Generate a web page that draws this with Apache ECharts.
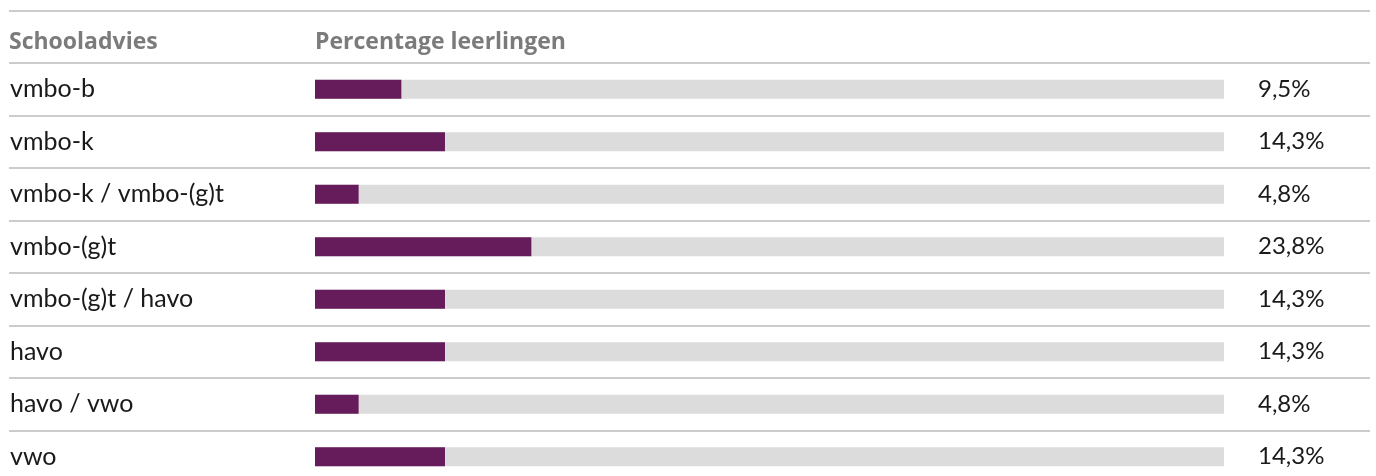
<!DOCTYPE html>
<html>
<head>
<meta charset="utf-8">
<script src="https://cdn.jsdelivr.net/npm/echarts@6/dist/echarts.min.js"></script>
<style>
  html, body { margin: 0; padding: 0; background: #fff; }
  #main { width: 1376px; height: 476px; }
</style>
</head>
<body>
<div id="main"></div>
<script>
var chartDom = document.getElementById('main');
var myChart = echarts.init(chartDom);
var option;

const categories = [
  'vmbo-b',
  'vmbo-k',
  'vmbo-k / vmbo-(g)t',
  'vmbo-(g)t',
  'vmbo-(g)t / havo',
  'havo',
  'havo / vwo',
  'vwo'
];
const values = [9.5, 14.3, 4.8, 23.8, 14.3, 14.3, 4.8, 14.3];
const trackMax = 100;
const headers = ['Schooladvies', 'Percentage leerlingen'];

const font = 'Lato, sans-serif';
const headFont = "'Open Sans', sans-serif";
const purple = '#661b5a';
const track = '#dcdcdc';
const lineColor = '#cccccc';

// bars run from x=315 to x=1224 for 0..100%, grid spans the full row width
const pxPerUnit = (1224 - 315) / trackMax;
const xMin = -(315 - 9) / pxPerUnit;
const xMax = (1370 - 315) / pxPerUnit;

function fmt(v) {
  return v.toFixed(1).replace('.', ',') + '%';
}

option = {
  animation: false,
  grid: {
    left: 9,
    right: 6,
    top: 63,
    height: 420,
    outerBoundsMode: 'none'
  },
  xAxis: {
    type: 'value',
    min: xMin,
    max: xMax,
    show: false
  },
  yAxis: {
    type: 'category',
    inverse: true,
    data: categories,
    axisLine: { show: false },
    axisTick: { show: false },
    splitLine: {
      show: true,
      lineStyle: { color: lineColor, width: 2 }
    },
    axisLabel: {
      align: 'left',
      margin: -1,
      padding: [6, 0, 0, 0],
      fontFamily: font,
      fontSize: 25,
      color: '#1a1a1a'
    }
  },
  series: [
    {
      name: 'track',
      type: 'bar',
      data: categories.map(function () { return trackMax; }),
      barWidth: 19,
      barGap: '-100%',
      silent: true,
      itemStyle: { color: track },
      label: {
        show: true,
        position: 'right',
        distance: 34,
        padding: [6, 0, 0, 0],
        fontFamily: font,
        fontSize: 24,
        color: '#1a1a1a',
        formatter: function (p) {
          return fmt(values[p.dataIndex]);
        }
      }
    },
    {
      name: 'Percentage leerlingen',
      type: 'bar',
      data: values,
      barWidth: 19,
      barGap: '-100%',
      z: 3,
      itemStyle: { color: purple }
    }
  ],
  graphic: {
    elements: [
      {
        type: 'line',
        shape: { x1: 9, y1: 11, x2: 1370, y2: 11 },
        style: { stroke: lineColor, lineWidth: 2 }
      },
      {
        type: 'text',
        x: 9,
        y: 42,
        style: {
          text: headers[0],
          font: 'bold 23px ' + headFont,
          fill: '#7b7b7b',
          verticalAlign: 'middle'
        }
      },
      {
        type: 'text',
        x: 315,
        y: 42,
        style: {
          text: headers[1],
          font: 'bold 23px ' + headFont,
          fill: '#7b7b7b',
          verticalAlign: 'middle'
        }
      }
    ]
  }
};

option && myChart.setOption(option);
</script>
</body>
</html>
